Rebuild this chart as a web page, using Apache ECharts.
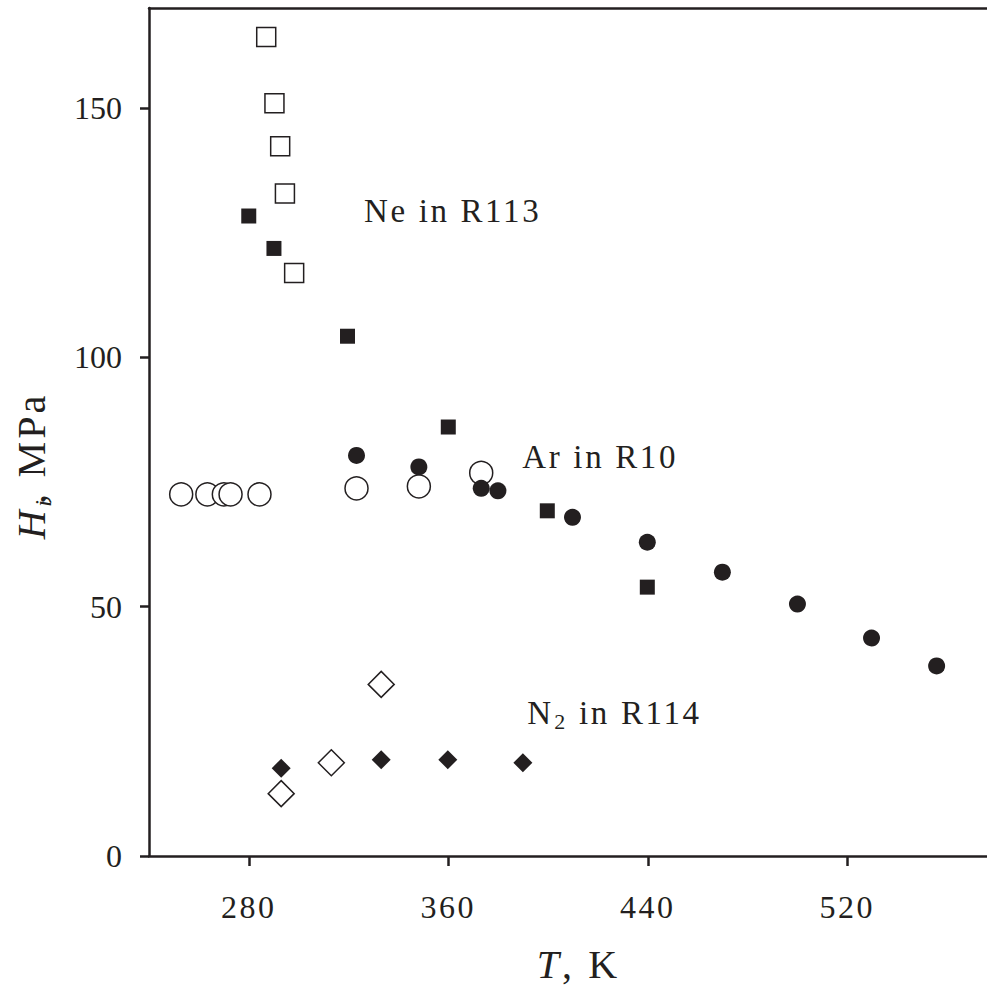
<!DOCTYPE html>
<html>
<head>
<meta charset="utf-8">
<script src="https://cdn.jsdelivr.net/npm/echarts@6/dist/echarts.min.js"></script>
<style>
html,body{margin:0;padding:0;background:#fff}
#c{width:987px;height:989px}
#c svg text{letter-spacing:0.08em}
</style>
</head>
<body>
<div id="c"></div>
<script>
// ---- data (T in K, H in MPa) ----
const xTicks = [280, 360, 440, 520];
const yTicks = [0, 50, 100, 150];

const neFilledT = [280.0, 290.1, 319.6, 360.0, 399.7, 439.8];
const neFilledH = [128.3, 121.8, 104.2, 86.0, 69.2, 53.9];
const neOpenT = [287.0, 290.3, 292.6, 294.5, 298.2];
const neOpenH = [164.2, 150.9, 142.3, 132.8, 116.9];

const arFilledT = [323.2, 348.2, 373.2, 379.9, 409.8, 439.8, 469.9, 500.0, 529.7, 555.8];
const arFilledH = [80.3, 78.0, 73.7, 73.2, 67.9, 62.9, 56.9, 50.5, 43.7, 38.1];
const arOpenT = [252.9, 263.4, 270.0, 272.7, 284.3, 323.2, 348.2, 373.2];
const arOpenH = [72.5, 72.5, 72.5, 72.5, 72.5, 73.7, 74.1, 76.8];

const n2FilledT = [293.0, 333.1, 359.8, 389.9];
const n2FilledH = [17.6, 19.3, 19.3, 18.7];
const n2OpenT = [293.0, 313.1, 333.1];
const n2OpenH = [12.5, 18.7, 34.4];

const annoText = ['{a|Ne in R113}', '{a|Ar in R10}', '{a|N}{s|2}{b| in R114}'];
const annoT = [326.2, 389.7, 391.7];
const annoH = [129.4, 80.0, 28.7];

// ---- chart ----
const ink = '#231f20';
const serif = '"Liberation Serif", "Times New Roman", serif';
const zip = (a, b) => a.map((v, i) => [v, b[i]]);

const chart = echarts.init(document.getElementById('c'), null, {renderer: 'svg'});

function filled(name, sym, size, T, H) {
  return {name, type: 'scatter', symbol: sym, symbolSize: size, data: zip(T, H),
    itemStyle: {color: ink, opacity: 1}, z: 3, animation: false};
}
function open(name, sym, size, T, H) {
  return {name, type: 'scatter', symbol: sym, symbolSize: size, data: zip(T, H),
    itemStyle: {color: '#fff', borderColor: ink, borderWidth: 1.5, opacity: 1}, z: 2, animation: false};
}

chart.setOption({
  backgroundColor: '#fff',
  animation: false,
  grid: {left: 149, right: 0, top: 8, bottom: 133, containLabel: false, outerBoundsMode: 'none'},
  xAxis: [{
    type: 'value', min: 240, max: 576, position: 'bottom',
    axisLine: {show: true, onZero: false, lineStyle: {color: ink, width: 2.5}},
    axisTick: {show: true, customValues: xTicks, length: 10, lineStyle: {color: ink, width: 2.5}},
    axisLabel: {customValues: xTicks, color: ink, fontFamily: serif, fontSize: 32, margin: 35},
    splitLine: {show: false},
    name: '{it|T}{n|, K}', nameLocation: 'middle', nameGap: 88,
    nameTextStyle: {padding: [0, 0, 0, 18], rich: {
      it: {fontFamily: serif, fontSize: 40, fontStyle: 'italic', color: ink},
      n: {fontFamily: serif, fontSize: 40, color: ink, padding: [0, 0, 0, 6]}
    }}
  }, {
    type: 'value', min: 240, max: 576, position: 'top',
    axisLine: {show: true, onZero: false, lineStyle: {color: ink, width: 2.5}},
    axisTick: {show: false}, axisLabel: {show: false}, splitLine: {show: false}
  }],
  yAxis: {
    type: 'value', min: 0, max: 170,
    axisLine: {show: true, onZero: false, lineStyle: {color: ink, width: 2.5}},
    axisTick: {show: true, customValues: yTicks, length: 9, lineStyle: {color: ink, width: 2.5}},
    axisLabel: {customValues: yTicks, color: ink, fontFamily: serif, fontSize: 32, margin: 27},
    splitLine: {show: false},
    name: '{it|H}{s|i}{n|, MPa}', nameLocation: 'middle', nameRotate: 90, nameGap: 94,
    nameTextStyle: {padding: [0, 74, 0, 0], rich: {
      it: {fontFamily: serif, fontSize: 40, fontStyle: 'italic', color: ink, lineHeight: 48},
      s: {fontFamily: serif, fontSize: 24, fontStyle: 'italic', color: ink, lineHeight: 18, verticalAlign: 'bottom', padding: [0, 0, 0, 3]},
      n: {fontFamily: serif, fontSize: 40, color: ink, lineHeight: 48, padding: [0, 0, 0, 3]}
    }}
  },
  series: [
    open('Ne open', 'rect', 19, neOpenT, neOpenH),
    filled('Ne filled', 'rect', 15, neFilledT, neFilledH),
    open('Ar open', 'circle', 23, arOpenT, arOpenH),
    filled('Ar filled', 'circle', 17, arFilledT, arFilledH),
    open('N2 open', 'diamond', 26, n2OpenT, n2OpenH),
    filled('N2 filled', 'diamond', 19, n2FilledT, n2FilledH),
    {
      name: 'labels', type: 'scatter', symbolSize: 0, silent: true, z: 5,
      itemStyle: {opacity: 1},
      data: annoT.map((t, i) => ({value: [t, annoH[i]], label: {formatter: annoText[i]}})),
      label: {show: true, position: 'right', distance: 0, color: ink, opacity: 1,
        rich: {
          a: {fontFamily: serif, fontSize: 33, color: ink, lineHeight: 40},
          b: {fontFamily: serif, fontSize: 33, color: ink, lineHeight: 40, padding: [0, 0, 0, 3]},
          s: {fontFamily: serif, fontSize: 22, color: ink, lineHeight: 18, verticalAlign: 'bottom', padding: [0, 0, 0, 3]}
        }}
    }
  ]
});

// y tick labels in the reference are set without extra tracking
const yLabelStrings = yTicks.map(String);
function untrackY() {
  document.querySelectorAll('#c svg text').forEach(t => {
    if (yLabelStrings.includes(t.textContent.trim())) t.style.letterSpacing = '0px';
  });
}
untrackY();
chart.on('finished', untrackY);
</script>
</body>
</html>
